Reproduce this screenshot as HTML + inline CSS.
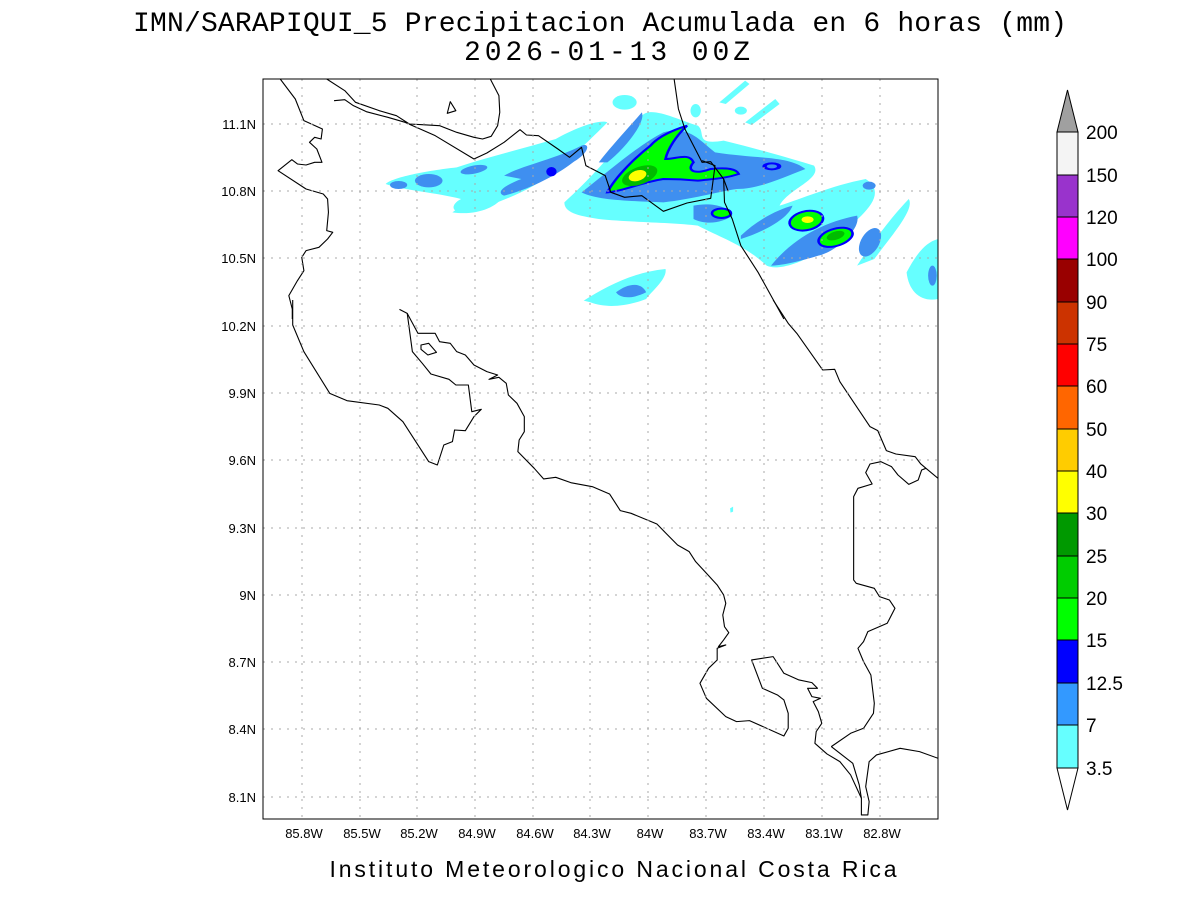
<!DOCTYPE html>
<html><head><meta charset="utf-8"><style>
html,body{margin:0;padding:0;background:#fff;}
svg{display:block;}
text{font-family:"Liberation Sans",sans-serif;fill:#000;}
</style></head><body>
<svg width="1200" height="900" viewBox="0 0 1200 900" xmlns="http://www.w3.org/2000/svg">
<rect width="1200" height="900" fill="#fff"/>
<text x="600" y="31" font-size="28" text-anchor="middle" style="font-family:'Liberation Mono',monospace" fill="#111" textLength="934" lengthAdjust="spacing">IMN/SARAPIQUI_5 Precipitacion Acumulada en 6 horas (mm)</text>
<text x="607" y="60" font-size="28" text-anchor="middle" style="font-family:'Liberation Mono',monospace" fill="#111" textLength="286" lengthAdjust="spacing">2026-01-13 00Z</text>
<text x="613" y="877" font-size="23" text-anchor="middle" fill="#222" textLength="567" lengthAdjust="spacing">Instituto Meteorologico Nacional Costa Rica</text>

<defs><clipPath id="c"><rect x="263" y="79" width="675" height="740"/></clipPath></defs>
<g clip-path="url(#c)">
<g transform="translate(263,79) scale(0.4305,0.3333)">
<g fill="#66ffff">
<path d="M285,315 C300,295 380,275 450,265 C520,235 600,210 680,180 C720,150 780,120 800,130 C770,170 720,230 680,280 C620,330 560,370 480,395 C440,410 430,380 460,360 C400,340 330,335 285,315 Z"/>
<path d="M700,370 C760,300 830,200 880,110 C900,80 960,120 1010,140 C1030,160 1000,200 1070,185 C1150,210 1230,240 1280,260 C1300,300 1220,330 1200,380 C1250,360 1320,320 1400,300 C1460,350 1380,420 1330,480 C1280,540 1200,580 1170,560 C1120,500 1070,480 1010,440 C950,430 850,430 780,420 C730,410 700,400 700,370 Z"/>
<path d="M1380,560 C1420,480 1470,400 1500,360 C1515,390 1460,470 1420,540 Z"/>
<path d="M1495,580 C1520,520 1540,490 1568,480 L1568,660 C1530,670 1500,640 1495,580 Z"/>
<path d="M745,665 C800,620 860,580 935,570 C940,600 900,640 890,660 C850,680 800,690 760,670 Z"/>
<ellipse cx="840" cy="70" rx="28" ry="22"/>
<path d="M1060,70 L1120,5 L1130,15 L1075,75 Z"/>
<path d="M1120,130 L1190,60 L1200,75 L1135,138 Z"/>
<ellipse cx="1110" cy="95" rx="14" ry="12"/>
<ellipse cx="1005" cy="95" rx="12" ry="20"/>
<path d="M440,400 C470,370 520,360 560,350 C540,390 490,410 440,400 Z"/>
</g>
<g fill="#3f8ff0">
<ellipse cx="385" cy="305" rx="32" ry="20"/>
<ellipse cx="315" cy="318" rx="20" ry="12"/>
<ellipse cx="490" cy="272" rx="32" ry="12" transform="rotate(-15 490 272)"/>
<path d="M560,290 C600,260 680,240 740,200 C760,190 760,220 720,250 C680,290 620,330 560,350 C540,340 560,320 600,300 Z"/>
<path d="M780,250 C810,200 860,130 880,100 C890,130 840,210 800,250 Z"/>
<path d="M740,340 C800,280 870,200 930,160 C990,140 1010,180 1050,220 C1150,240 1220,230 1260,270 C1200,300 1150,330 1100,330 C1050,340 1000,360 930,370 C850,365 780,365 740,340 Z"/>
<path d="M1180,560 C1230,480 1300,430 1380,410 C1390,450 1330,520 1290,530 C1240,550 1200,560 1180,560 Z"/>
<path d="M1000,380 C1040,370 1080,380 1090,410 C1070,430 1030,440 1000,420 Z"/>
<path d="M1110,470 C1150,420 1200,390 1230,380 C1220,420 1160,460 1110,480 Z"/>
<ellipse cx="1410" cy="490" rx="22" ry="45" transform="rotate(20 1410 490)"/>
<ellipse cx="1408" cy="320" rx="15" ry="12"/>
<ellipse cx="1555" cy="590" rx="10" ry="30"/>
<path d="M820,640 C850,610 880,610 890,640 C860,660 830,660 820,640 Z"/>
</g>
<g fill="#00ff00" stroke="#0000ff" stroke-width="6">
<path d="M800,340 C820,290 870,230 900,200 C920,170 960,150 985,140 C960,170 940,210 935,240 C960,240 990,220 1000,250 C980,280 1010,285 1040,270 C1080,265 1100,270 1105,285 C1070,300 1040,300 1010,305 C970,300 950,300 930,300 C880,310 840,335 800,340 Z"/>
<ellipse cx="1065" cy="403" rx="22" ry="14"/>
<ellipse cx="1262" cy="425" rx="40" ry="28" transform="rotate(-20 1262 425)"/>
<ellipse cx="1330" cy="475" rx="42" ry="25" transform="rotate(-25 1330 475)"/>
</g>
<g fill="#00bb00">
<ellipse cx="875" cy="290" rx="45" ry="25" transform="rotate(-30 875 290)"/>
<ellipse cx="1330" cy="470" rx="22" ry="12" transform="rotate(-25 1330 470)"/>
</g>
<g fill="#0000ff"><ellipse cx="1182" cy="262" rx="22" ry="12"/><ellipse cx="670" cy="278" rx="12" ry="14"/></g>
<g fill="#3f8ff0"><ellipse cx="1182" cy="262" rx="12" ry="6"/></g>
<g fill="#ffff00"><ellipse cx="870" cy="290" rx="22" ry="15" transform="rotate(-30 870 290)"/><ellipse cx="1265" cy="422" rx="14" ry="10"/></g>
<g fill="none" stroke="#000" stroke-width="1.1" stroke-linejoin="round">
<path vector-effect="non-scaling-stroke" d="M40,0 L75,60 L95,125 L138,150 L135,180 L120,175 L108,190 L125,210 L137,250 L120,250 L100,258 L80,255 L67,242 L35,275 L100,330 L140,345 L150,360 L152,400 L148,455 L162,460 L150,480 L130,505 L100,515 L90,535 L95,575 L80,605 L60,650 L68,690 L68,720"/>
<path vector-effect="non-scaling-stroke" d="M148,0 L190,35 L215,70 L270,95 L310,110 L340,135 L370,137 L410,140 L450,160 L490,175 L510,180 L530,172 L545,140 L550,100 L548,50 L528,0"/>
<path vector-effect="non-scaling-stroke" d="M165,65 L190,62 L210,80 L240,98 L290,115 L330,130 L400,170 L490,240 L520,222 L560,190 L597,152 L612,168 L640,170 L685,210 L712,235 L740,205 L750,260 L795,290 L808,340 L840,355 L880,350 L930,397 L985,372 L1040,358 L1050,260 L1020,245"/>
<path vector-effect="non-scaling-stroke" d="M955,0 L965,90 L980,150 L1010,225 L1020,250 L1040,248 L1070,300 L1080,335"/>
<path vector-effect="non-scaling-stroke" d="M1070,300 L1072,370 L1090,420 L1110,500 L1150,580 L1210,720"/>
<path vector-effect="non-scaling-stroke" d="M435,68 L448,95 L428,103 Z"/>
</g>
</g>
<g transform="translate(263,300) scale(0.4305,0.3333)" fill="none" stroke="#000" stroke-linejoin="round">
<path vector-effect="non-scaling-stroke" stroke-width="1.1" d="M69,0 L69,75 L95,155 L155,280 L195,302 L270,315 L290,325 L325,365 L385,485 L405,495 L420,435 L440,425 L445,390 L470,392 L490,350 L507,328 L485,335 L477,255 L448,255 L432,238 L390,222 L370,190 L347,155 L335,40 L317,28"/>
<path vector-effect="non-scaling-stroke" stroke-width="1.1" d="M335,40 L360,100 L400,100 L410,125 L435,130 L450,155 L470,165 L490,195 L520,215 L545,225 L525,238 L548,232 L565,250 L570,285 L590,310 L607,350 L607,395 L595,420 L592,455 L630,505 L652,537 L680,532 L715,548 L765,560 L805,582 L830,632 L855,640 L915,672 L940,705 L963,735 L990,755 L1005,785 L1030,820 L1055,855 L1070,885 L1075,910 L1068,945 L1072,980 L1082,998 L1070,1020 L1058,1040 L1075,1035 L1055,1045 L1055,1080 L1035,1105 L1015,1150 L1030,1195 L1075,1250 L1100,1265 L1130,1262 L1210,1308 L1220,1285 L1220,1240 L1210,1200 L1195,1185 L1160,1165 L1135,1080 L1185,1070 L1210,1120 L1245,1140 L1275,1148 L1288,1165 L1265,1165 L1275,1190 L1295,1195 L1278,1205 L1290,1235 L1298,1270 L1285,1295 L1282,1330 L1310,1362 L1340,1385 L1365,1425 L1390,1495 L1390,1545 L1405,1545 L1408,1505 L1400,1460 L1408,1385 L1425,1365 L1480,1345 L1525,1355 L1568,1375"/>
<path vector-effect="non-scaling-stroke" stroke-width="1.1" d="M367,135 L385,130 L403,157 L383,165 L367,148 Z"/>
<path vector-effect="non-scaling-stroke" stroke-width="1.1" d="M1320,1340 L1365,1300 L1395,1285 L1418,1240 L1420,1210 L1412,1125 L1395,1085 L1382,1045 L1395,1025 L1405,995 L1450,970 L1468,925 L1455,900 L1432,890 L1420,865 L1378,850 L1372,840 L1372,590 L1382,565 L1415,552 L1400,518 L1410,492 L1435,485 L1460,500 L1475,525 L1500,553 L1522,540 L1530,510 L1540,505"/>
<path vector-effect="non-scaling-stroke" stroke-width="1.1" d="M1320,1340 L1345,1365 L1370,1390 L1385,1455 L1390,1495"/>
<path vector-effect="non-scaling-stroke" stroke-width="1.1" d="M1185,0 L1220,70 L1240,100 L1300,210 L1328,208 L1340,245 L1410,380 L1428,392 L1448,452 L1470,462 L1515,470 L1528,492 L1540,505 L1568,535"/>
<path stroke="none" fill="#66ffff" d="M1085,625 L1092,620 L1092,635 L1086,638 Z"/>
</g>
</g>
<g stroke="#aaa" stroke-width="1" stroke-dasharray="2,6">
<line x1="302" y1="79" x2="302" y2="819"/><line x1="360" y1="79" x2="360" y2="819"/><line x1="417" y1="79" x2="417" y2="819"/><line x1="475" y1="79" x2="475" y2="819"/><line x1="533" y1="79" x2="533" y2="819"/><line x1="590" y1="79" x2="590" y2="819"/><line x1="648" y1="79" x2="648" y2="819"/><line x1="706" y1="79" x2="706" y2="819"/><line x1="764" y1="79" x2="764" y2="819"/><line x1="822" y1="79" x2="822" y2="819"/><line x1="880" y1="79" x2="880" y2="819"/>
<line x1="263" y1="124" x2="938" y2="124"/><line x1="263" y1="191" x2="938" y2="191"/><line x1="263" y1="258" x2="938" y2="258"/><line x1="263" y1="326" x2="938" y2="326"/><line x1="263" y1="393" x2="938" y2="393"/><line x1="263" y1="460" x2="938" y2="460"/><line x1="263" y1="528" x2="938" y2="528"/><line x1="263" y1="595" x2="938" y2="595"/><line x1="263" y1="662" x2="938" y2="662"/><line x1="263" y1="729" x2="938" y2="729"/><line x1="263" y1="797" x2="938" y2="797"/>
</g>
<rect x="263" y="79" width="675" height="740" fill="none" stroke="#000" stroke-width="1"/>
<g font-size="13" text-anchor="end">
<text x="256" y="129">11.1N</text><text x="256" y="196">10.8N</text><text x="256" y="263">10.5N</text><text x="256" y="331">10.2N</text><text x="256" y="398">9.9N</text><text x="256" y="465">9.6N</text><text x="256" y="533">9.3N</text><text x="256" y="600">9N</text><text x="256" y="667">8.7N</text><text x="256" y="734">8.4N</text><text x="256" y="802">8.1N</text>
</g>
<g font-size="13" text-anchor="middle">
<text x="304" y="838">85.8W</text><text x="362" y="838">85.5W</text><text x="419" y="838">85.2W</text><text x="477" y="838">84.9W</text><text x="535" y="838">84.6W</text><text x="592" y="838">84.3W</text><text x="650" y="838">84W</text><text x="708" y="838">83.7W</text><text x="766" y="838">83.4W</text><text x="824" y="838">83.1W</text><text x="882" y="838">82.8W</text>
</g>
<g stroke="#000" stroke-width="1">
<polygon points="1057,132 1078,132 1067.5,90" fill="#a0a0a0"/>
<rect x="1057" y="132" width="21" height="43" fill="#f4f4f4"/>
<rect x="1057" y="175" width="21" height="42" fill="#9933cc"/>
<rect x="1057" y="217" width="21" height="42" fill="#ff00ff"/>
<rect x="1057" y="259" width="21" height="43" fill="#990000"/>
<rect x="1057" y="302" width="21" height="42" fill="#cc3300"/>
<rect x="1057" y="344" width="21" height="42" fill="#ff0000"/>
<rect x="1057" y="386" width="21" height="43" fill="#ff6600"/>
<rect x="1057" y="429" width="21" height="42" fill="#ffcc00"/>
<rect x="1057" y="471" width="21" height="42" fill="#ffff00"/>
<rect x="1057" y="513" width="21" height="43" fill="#009900"/>
<rect x="1057" y="556" width="21" height="42" fill="#00cc00"/>
<rect x="1057" y="598" width="21" height="42" fill="#00ff00"/>
<rect x="1057" y="640" width="21" height="43" fill="#0000ff"/>
<rect x="1057" y="683" width="21" height="42" fill="#3399ff"/>
<rect x="1057" y="725" width="21" height="43" fill="#66ffff"/>
<polygon points="1057,768 1078,768 1067.5,810" fill="#fff"/>
</g>
<g font-size="19">
<text x="1086" y="139">200</text><text x="1086" y="182">150</text><text x="1086" y="224">120</text><text x="1086" y="266">100</text><text x="1086" y="309">90</text><text x="1086" y="351">75</text><text x="1086" y="393">60</text><text x="1086" y="436">50</text><text x="1086" y="478">40</text><text x="1086" y="520">30</text><text x="1086" y="563">25</text><text x="1086" y="605">20</text><text x="1086" y="647">15</text><text x="1086" y="690">12.5</text><text x="1086" y="732">7</text><text x="1086" y="775">3.5</text>
</g>
</svg>
</body></html>
